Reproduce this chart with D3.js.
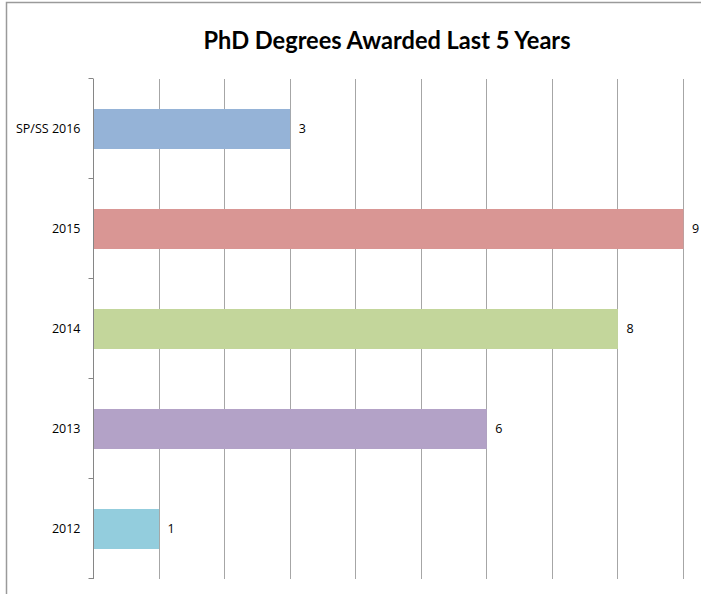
<!DOCTYPE html>
<html>
<head>
<meta charset="utf-8">
<script src="https://cdnjs.cloudflare.com/ajax/libs/d3/7.8.5/d3.min.js"></script>
<style>
  body { margin: 0; background: #fff; }
  svg { display: block; }
</style>
</head>
<body>
<div id="chart"></div>
<script>
(function () {

	// data
	var categories = ['SP/SS 2016', '2015', '2014', '2013', '2012'];
	var values = [3, 9, 8, 6, 1];
	var colors = ['#95b3d7', '#d99694', '#c3d69b', '#b3a2c7', '#93cddd'];
	var xTicks = [0, 1, 2, 3, 4, 5, 6, 7, 8, 9];

	var width = 701, height = 594;
	var margin = { top: 79, left: 93, right: 18, bottom: 15 };

	var svg = d3.select('#chart').append('svg')
		.attr('width', width)
		.attr('height', height);

	// outer frame
	svg.append('path')
		.attr('d', 'M6.5,' + height + 'V2.5H' + width)
		.attr('fill', 'none')
		.attr('stroke', '#9a9a9a')
		.attr('stroke-width', 1.5);

	var x = d3.scaleLinear()
		.domain([0, 9])
		.range([margin.left, 683]);

	var y = d3.scaleBand()
		.domain(categories)
		.range([margin.top, height - margin.bottom])
		.paddingInner(0.6)
		.paddingOuter(0.3);

	var yOuter = d3.scaleBand()
		.domain(categories)
		.range([margin.top, height - margin.bottom]);

	// title
	svg.append('text')
		.attr('x', 387)
		.attr('y', 49)
		.attr('text-anchor', 'middle')
		.attr('font-family', 'Lato, "Open Sans", sans-serif')
		.attr('font-weight', 'bold')
		.attr('font-size', 24)
		.attr('textLength', 367)
		.attr('lengthAdjust', 'spacingAndGlyphs')
		.attr('fill', '#000')
		.text('PhD Degrees Awarded Last 5 Years');

	// vertical gridlines
	svg.append('g')
		.selectAll('line')
		.data(xTicks.slice(1))
		.enter()
		.append('line')
		.attr('x1', function (d) { return Math.round(x(d)) + 0.5; })
		.attr('x2', function (d) { return Math.round(x(d)) + 0.5; })
		.attr('y1', margin.top)
		.attr('y2', height - margin.bottom)
		.attr('stroke', '#a6a6a6')
		.attr('stroke-width', 1);

	// bars
	svg.append('g')
		.selectAll('rect')
		.data(categories)
		.enter()
		.append('rect')
		.attr('x', x(0) + 0.5)
		.attr('y', function (d) { return y(d); })
		.attr('width', function (d, i) { return x(values[i]) - x(0); })
		.attr('height', y.bandwidth())
		.attr('fill', function (d, i) { return colors[i]; });

	// value labels
	svg.append('g')
		.selectAll('text')
		.data(categories)
		.enter()
		.append('text')
		.attr('x', function (d, i) { return x(values[i]) + 9; })
		.attr('y', function (d) { return y(d) + y.bandwidth() / 2; })
		.attr('dy', '0.35em')
		.attr('font-family', '"Open Sans", sans-serif')
		.attr('font-size', 12.5)
		.attr('fill', '#000')
		.text(function (d, i) { return values[i]; });

	// category axis
	var axis = svg.append('g')
		.attr('transform', 'translate(' + (margin.left + 0.5) + ',0)');

	axis.append('line')
		.attr('y1', margin.top)
		.attr('y2', height - margin.bottom)
		.attr('stroke', '#868686');

	var bounds = categories.map(function (d) { return yOuter(d); })
		.concat([height - margin.bottom]);

	axis.selectAll('.tick')
		.data(bounds)
		.enter()
		.append('line')
		.attr('x1', -5)
		.attr('x2', 0)
		.attr('y1', function (d) { return Math.round(d) - 0.5; })
		.attr('y2', function (d) { return Math.round(d) - 0.5; })
		.attr('stroke', '#868686');

	axis.selectAll('text')
		.data(categories)
		.enter()
		.append('text')
		.attr('x', -13)
		.attr('y', function (d) { return yOuter(d) + yOuter.bandwidth() / 2; })
		.attr('dy', '0.35em')
		.attr('text-anchor', 'end')
		.attr('font-family', '"Open Sans", sans-serif')
		.attr('font-size', 12.5)
		.attr('fill', '#000')
		.text(function (d) { return d; });

})();
</script>
</body>
</html>
